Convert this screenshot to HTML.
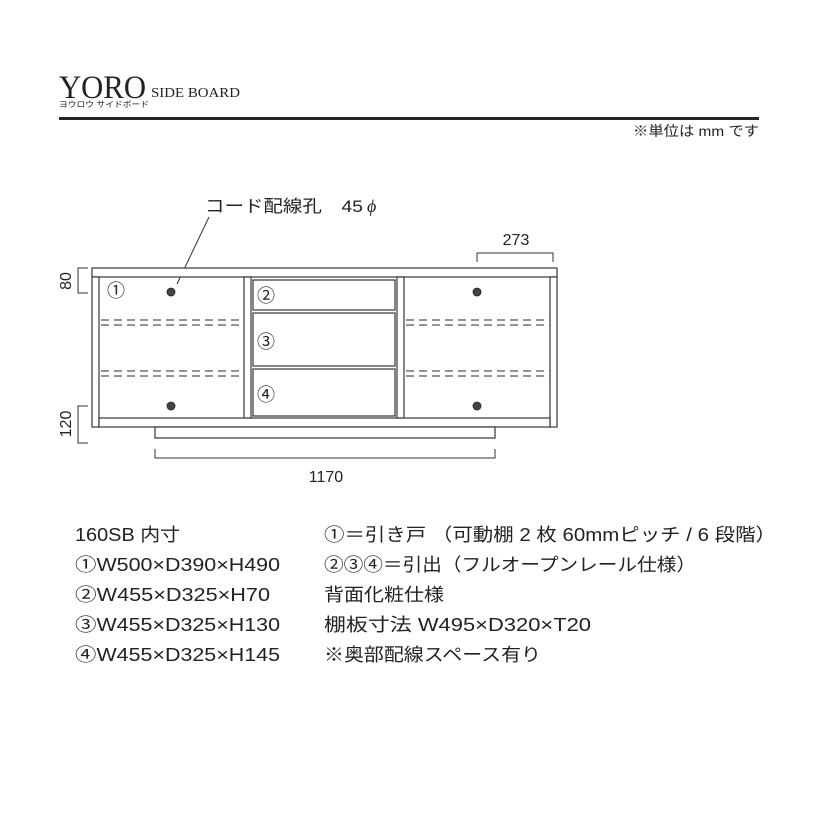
<!DOCTYPE html>
<html><head><meta charset="utf-8"><style>
html,body{margin:0;padding:0;background:#fff;}
svg{display:block;}
text{font-family:"Liberation Sans","Noto Sans CJK JP",sans-serif;fill:#222;}
</style></head><body>
<svg width="818" height="818" viewBox="0 0 818 818" xmlns="http://www.w3.org/2000/svg">
<text x="59" y="98" textLength="87" lengthAdjust="spacingAndGlyphs" style="font-family:'Liberation Serif',serif;font-size:33px" fill="#111">YORO</text>
<text x="151" y="97" textLength="89" lengthAdjust="spacingAndGlyphs" style="font-family:'Liberation Serif',serif;font-size:14px" fill="#111">SIDE BOARD</text>
<text x="59" y="107" textLength="90" lengthAdjust="spacingAndGlyphs" style="font-size:8px">ヨウロウ サイドボード</text>
<rect x="59" y="117" width="700" height="3" fill="#2a2422"/>
<text x="759" y="136" text-anchor="end" textLength="126" lengthAdjust="spacingAndGlyphs" style="font-size:14px">※単位は mm です</text>
<text x="205" y="212" textLength="158" lengthAdjust="spacingAndGlyphs" style="font-size:17px">コード配線孔　45</text>
<text x="367" y="212" style="font-family:'Liberation Serif',serif;font-style:italic;font-size:18px">ϕ</text>
<line x1="209" y1="217" x2="177" y2="284" stroke="#333" stroke-width="1"/>
<text x="516" y="245" text-anchor="middle" style="font-size:16px">273</text>
<polyline points="477,262 477,253 553,253 553,262" fill="none" stroke="#333" stroke-width="1"/>
<g fill="#fff" stroke="#444" stroke-width="1.3">
<rect x="92" y="268" width="465" height="9"/>
<rect x="92" y="277" width="7" height="150"/>
<rect x="550" y="277" width="7" height="150"/>
<rect x="99" y="418" width="451" height="9"/>
<rect x="155" y="427" width="340" height="11"/>
<rect x="244" y="277" width="7" height="141"/>
<rect x="397" y="277" width="7" height="141"/>
<rect x="253" y="280" width="142" height="30"/>
<rect x="253" y="313" width="142" height="53"/>
<rect x="253" y="369" width="142" height="47"/>
</g>
<g stroke="#555" stroke-width="1.3" stroke-dasharray="8,5">
<line x1="101" y1="320" x2="244" y2="320"/><line x1="101" y1="325" x2="244" y2="325"/>
<line x1="101" y1="371" x2="244" y2="371"/><line x1="101" y1="376" x2="244" y2="376"/>
<line x1="406" y1="320" x2="550" y2="320"/><line x1="406" y1="325" x2="550" y2="325"/>
<line x1="406" y1="371" x2="550" y2="371"/><line x1="406" y1="376" x2="550" y2="376"/>
</g>
<g fill="#444" stroke="#222" stroke-width="0.8">
<circle cx="171" cy="292" r="4"/><circle cx="171" cy="406" r="4"/>
<circle cx="477" cy="292" r="4"/><circle cx="477" cy="406" r="4"/>
</g>
<text x="107" y="297" style="font-size:18px">①</text>
<text x="257" y="302" style="font-size:18px">②</text>
<text x="257" y="348" style="font-size:18px">③</text>
<text x="257" y="401" style="font-size:18px">④</text>
<polyline points="88,268 78,268 78,293 88,293" fill="none" stroke="#333" stroke-width="1"/>
<text transform="translate(71,281) rotate(-90)" text-anchor="middle" style="font-size:16px">80</text>
<polyline points="88,406 78,406 78,443 88,443" fill="none" stroke="#333" stroke-width="1"/>
<text transform="translate(71,424) rotate(-90)" text-anchor="middle" style="font-size:16px">120</text>
<polyline points="155,449 155,458 495,458 495,449" fill="none" stroke="#333" stroke-width="1"/>
<text x="326" y="482" text-anchor="middle" style="font-size:16px">1170</text>
<g style="font-size:18px">
<text x="75" y="541" textLength="105" lengthAdjust="spacingAndGlyphs">160SB 内寸</text>
<text x="75" y="571" textLength="205" lengthAdjust="spacingAndGlyphs">①W500×D390×H490</text>
<text x="75" y="601" textLength="195" lengthAdjust="spacingAndGlyphs">②W455×D325×H70</text>
<text x="75" y="631" textLength="205" lengthAdjust="spacingAndGlyphs">③W455×D325×H130</text>
<text x="75" y="661" textLength="205" lengthAdjust="spacingAndGlyphs">④W455×D325×H145</text>
<text x="324" y="541" textLength="452" lengthAdjust="spacingAndGlyphs">①＝引き戸 （可動棚 2 枚 60mmピッチ / 6 段階）</text>
<text x="324" y="571" textLength="372" lengthAdjust="spacingAndGlyphs">②③④＝引出（フルオープンレール仕様）</text>
<text x="324" y="601" textLength="120" lengthAdjust="spacingAndGlyphs">背面化粧仕様</text>
<text x="324" y="631" textLength="267" lengthAdjust="spacingAndGlyphs">棚板寸法  W495×D320×T20</text>
<text x="324" y="661" textLength="217" lengthAdjust="spacingAndGlyphs">※奥部配線スペース有り</text>
</g>
</svg>
</body></html>
